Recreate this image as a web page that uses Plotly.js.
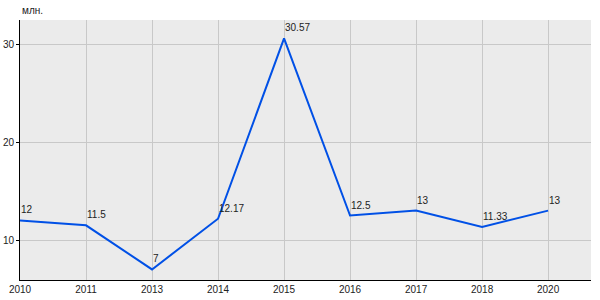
<!DOCTYPE html>
<html><head><meta charset="utf-8">
<script src="https://cdn.plot.ly/plotly-3.0.1.min.js"></script>
<style>html,body{margin:0;padding:0;background:#fff}#c{width:600px;height:300px}</style>
</head><body><div id="c"></div>
<script>
const years = ['2010','2011','2013','2014','2015','2016','2017','2018','2020'];
const values = [12, 11.5, 7, 12.17, 30.57, 12.5, 13, 11.33, 13];
const labels = ['12','11.5','7','12.17','30.57','12.5','13','11.33','13'];
const unit = 'млн.';

const anns = years.map((yr, i) => ({
  x: i, y: values[i], xref: 'x', yref: 'y', text: labels[i], showarrow: false,
  xanchor: 'left', yanchor: 'bottom', xshift: -1, yshift: 3,
  font: {family: 'Liberation Sans, Arial', size: 10, color: '#222'}
}));
anns.push({text: unit, xref: 'paper', yref: 'paper', x: 0, y: 1, xanchor: 'left', yanchor: 'bottom',
  yshift: 2, showarrow: false, font: {size: 10, color: '#222'}});

Plotly.newPlot('c', [{
  x: years, y: values, type: 'scatter', mode: 'lines',
  line: {color: '#0050e6', width: 2},
  cliponaxis: false, hoverinfo: 'none'
}], {
  width: 600, height: 300,
  margin: {l: 20, r: 9, t: 20, b: 20, pad: 0},
  paper_bgcolor: '#fff', plot_bgcolor: '#ebebeb',
  font: {family: 'Liberation Sans, Arial', size: 10, color: '#222'},
  showlegend: false,
  xaxis: {type: 'category', range: [0, 8.65], showgrid: true, gridcolor: '#c8c8c8', gridwidth: 1,
    showline: true, linecolor: '#000', linewidth: 1, ticks: '', zeroline: false,
    tickfont: {size: 10, color: '#222'}, fixedrange: true},
  yaxis: {range: [5.92, 32.45], tickvals: [10, 20, 30], showgrid: true, gridcolor: '#c8c8c8', gridwidth: 1,
    showline: true, linecolor: '#000', linewidth: 1, ticks: 'outside', ticklen: 3, tickcolor: '#000',
    zeroline: false, tickfont: {size: 10, color: '#222'}, fixedrange: true},
  annotations: anns
}, {staticPlot: true});
</script></body></html>
